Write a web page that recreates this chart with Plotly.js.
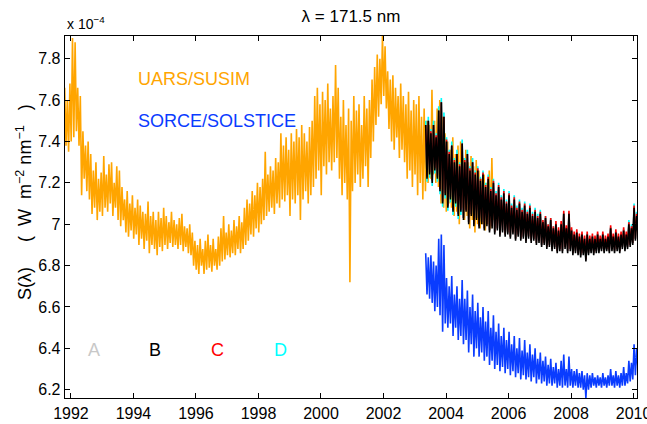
<!DOCTYPE html>
<html>
<head>
<meta charset="utf-8">
<script src="https://cdn.plot.ly/plotly-3.0.1.min.js"></script>
<style>html,body{margin:0;padding:0;background:#fff;}#chart{width:647px;height:424px;}</style>
</head>
<body>
<div id="chart"></div>
<script>
// ---- data (values x 1e-4 W m^-2 nm^-1), monthly upper / lower excursions ----
const susimStartYear = 1991.80;
const sorceStartYear = 2003.35;

const susimHi = [
7.66,7.60,7.68,7.90,7.88,7.66,7.62,7.45,7.38,7.40,7.34,7.26,
7.30,7.22,7.25,7.33,7.24,7.29,7.30,7.20,7.28,7.26,7.18,7.12,
7.16,7.10,7.14,7.08,7.12,7.09,7.06,7.05,7.11,7.04,7.06,7.02,
7.06,7.03,7.08,7.04,7.01,7.06,7.02,7.00,7.03,7.05,6.99,6.98,
7.00,6.96,6.92,6.90,6.93,6.88,6.92,6.95,6.90,6.93,6.88,6.94,
6.98,7.04,6.96,7.00,6.97,7.02,6.99,7.04,7.01,7.08,7.12,7.10,
7.16,7.14,7.20,7.18,7.22,7.35,7.24,7.28,7.26,7.32,7.30,7.44,
7.38,7.42,7.36,7.44,7.40,7.46,7.42,7.48,7.44,7.40,7.47,7.50,
7.62,7.66,7.58,7.64,7.60,7.68,7.56,7.62,7.77,7.66,7.52,7.60,
7.48,7.56,7.50,7.62,7.55,7.58,7.48,7.62,7.56,7.60,7.70,7.76,
7.82,7.80,7.91,7.86,7.74,7.70,7.72,7.66,7.62,7.68,7.62,7.58,
7.64,7.55,7.60,7.58,7.62,7.52,7.56,7.50,7.48,7.65,7.50,7.56,
7.60,7.52,7.44,7.40,7.36,7.42,7.34,7.38,7.40,7.32,7.36,7.30,
7.33,7.28,7.31,7.26,7.22,7.24,7.20,7.26,7.32];
const susimLo = [
7.38,7.35,7.40,7.42,7.45,7.38,7.14,7.22,7.16,7.12,7.05,7.08,
7.02,7.06,7.04,7.08,7.06,7.10,7.04,7.08,7.02,6.99,7.02,6.96,
6.94,6.97,6.93,6.95,6.90,6.93,6.88,6.92,6.86,6.90,6.88,6.85,
6.89,6.87,6.90,6.88,6.91,6.89,6.90,6.88,6.90,6.87,6.89,6.86,
6.85,6.80,6.78,6.76,6.80,6.76,6.78,6.79,6.77,6.80,6.78,6.80,
6.82,6.83,6.85,6.84,6.86,6.85,6.88,6.86,6.88,6.90,6.92,6.95,
6.94,6.98,6.96,7.00,7.02,7.04,7.06,7.08,7.05,7.10,7.08,7.12,
7.11,7.14,7.04,7.12,7.10,7.14,7.02,7.12,7.16,7.10,7.14,7.18,
7.22,7.26,7.14,7.28,7.24,7.30,7.26,7.30,7.32,7.22,7.14,7.20,
7.12,6.72,7.16,7.20,7.24,7.18,7.22,7.28,7.18,7.32,7.40,7.48,
7.52,7.58,7.62,7.56,7.46,7.40,7.36,7.42,7.32,7.36,7.30,7.22,
7.26,7.18,7.24,7.14,7.20,7.12,7.16,7.20,7.22,7.24,7.20,7.18,
7.10,7.08,7.06,7.10,7.08,7.04,7.06,7.00,7.08,7.02,7.04,6.98,
7.02,6.96,7.00,6.98,7.00,6.97,7.00,6.98,7.02];

const bHi = [
7.48,7.50,7.44,7.48,7.42,7.55,7.59,7.52,7.40,7.34,7.38,7.30,7.34,7.28,7.39,7.30,7.34,7.26,7.30,7.24,
7.26,7.21,7.24,7.18,7.22,7.16,7.20,7.14,7.18,7.12,7.15,7.10,7.14,7.08,7.12,7.07,7.10,7.06,7.09,7.05,
7.08,7.04,7.06,7.03,7.05,7.01,7.03,6.99,7.02,6.98,7.00,6.97,7.00,7.05,6.98,7.05,6.97,6.95,6.96,6.94,
6.95,6.93,6.95,6.93,6.94,6.93,6.95,6.93,6.95,6.93,6.94,6.98,6.94,6.96,6.94,6.95,6.97,6.95,7.00,6.98,
7.08,7.04];
const bLo = [
7.22,7.24,7.20,7.26,7.22,7.16,7.10,7.14,7.08,7.12,7.06,7.10,7.04,7.06,7.02,7.06,7.00,7.04,6.99,7.02,
6.98,7.00,6.97,6.99,6.96,6.98,6.95,6.97,6.94,6.96,6.94,6.95,6.93,6.95,6.92,6.94,6.92,6.93,6.91,6.93,
6.91,6.92,6.90,6.91,6.89,6.90,6.88,6.89,6.87,6.88,6.86,6.87,6.86,6.88,6.86,6.87,6.85,6.86,6.85,6.84,
6.85,6.82,6.85,6.86,6.85,6.86,6.86,6.87,6.86,6.87,6.86,6.87,6.86,6.87,6.86,6.88,6.87,6.88,6.89,6.90,
6.92,6.95];

const cHi = [
7.48,7.50,7.45,7.48,7.43,7.55,7.59,7.52,7.41,7.35,7.38,7.31,7.34,7.29,7.39,7.31,7.34,7.27,7.30,7.25,
7.27,7.22,7.25,7.19,7.23,7.17,7.21,7.15,7.19,7.13,7.16,7.11,7.15,7.09,7.13,7.08,7.11,7.07,7.10,7.06,
7.09,7.05,7.07,7.04,7.06,7.02,7.04,7.00,7.03,6.99,7.015,6.985,7.015,7.065,6.995,7.065,6.985,6.965,6.975,6.955,
6.965,6.945,6.965,6.945,6.955,6.945,6.965,6.945,6.965,6.945,6.955,6.995,6.955,6.975,6.955,6.965,6.985,6.965,7.01,6.99,
7.09,7.05];
const cLo = [
7.23,7.25,7.21,7.27,7.23,7.17,7.11,7.15,7.09,7.13,7.07,7.11,7.05,7.07,7.03,7.07,7.01,7.05,7.00,7.03,
6.99,7.01,6.98,7.00,6.97,6.99,6.96,6.98,6.95,6.97,6.95,6.96,6.94,6.96,6.93,6.95,6.93,6.94,6.92,6.94,
6.92,6.93,6.91,6.92,6.90,6.91,6.89,6.90,6.88,6.89,6.87,6.88,6.87,6.89,6.87,6.88,6.86,6.87,6.86,6.85,
6.86,6.83,6.86,6.87,6.86,6.87,6.87,6.88,6.87,6.88,6.87,6.88,6.87,6.88,6.87,6.89,6.88,6.89,6.90,6.91,
6.93,6.96];

const dHi = [
7.50,7.52,7.46,7.50,7.44,7.57,7.61,7.54,7.42,7.36,7.40,7.32,7.36,7.30,7.41,7.32,7.36,7.28,7.32,7.26,
7.28,7.23,7.26,7.20,7.24,7.18,7.22,7.16,7.20,7.14,7.17,7.12,7.16,7.10,7.14,7.09,7.12,7.08,7.11,7.07,
7.10,7.06,7.08,7.05,7.07,7.02,7.04,7.00,7.03,6.99,7.005,6.975,7.005,7.055,6.985,7.055,6.975,6.955,6.965,6.945,
6.955,6.935,6.955,6.935,6.945,6.935,6.955,6.935,6.955,6.935,6.945,6.985,6.945,6.965,6.945,6.955,6.975,6.955,7.02,7.00,
7.10,7.06];
const dLo = [
7.205,7.225,7.185,7.245,7.205,7.145,7.085,7.125,7.065,7.105,7.045,7.085,7.025,7.045,7.03,7.07,7.01,7.05,7.00,7.03,
6.99,7.01,6.98,7.00,6.97,6.99,6.96,6.98,6.95,6.97,6.95,6.96,6.94,6.96,6.93,6.95,6.93,6.94,6.92,6.94,
6.92,6.93,6.91,6.92,6.90,6.91,6.89,6.90,6.88,6.89,6.87,6.88,6.87,6.89,6.87,6.88,6.86,6.87,6.86,6.85,
6.86,6.83,6.86,6.87,6.86,6.87,6.87,6.88,6.87,6.88,6.87,6.88,6.87,6.88,6.87,6.89,6.88,6.89,6.90,6.91,
6.93,6.96];

const solsticeHi = [
6.86,6.84,6.85,6.82,6.80,6.93,6.95,6.90,6.74,6.70,6.75,6.66,6.70,6.64,6.73,6.64,6.68,6.60,6.66,6.58,
6.62,6.55,6.60,6.53,6.58,6.50,6.56,6.48,6.52,6.46,6.50,6.44,6.48,6.42,6.46,6.40,6.45,6.39,6.44,6.38,
6.42,6.37,6.40,6.35,6.38,6.34,6.36,6.32,6.35,6.31,6.33,6.30,6.34,6.37,6.30,6.36,6.30,6.29,6.30,6.28,
6.29,6.27,6.28,6.27,6.28,6.26,6.27,6.26,6.28,6.26,6.27,6.30,6.27,6.29,6.27,6.28,6.31,6.28,6.34,6.33,
6.42,6.40];
const solsticeLo = [
6.66,6.64,6.62,6.58,6.60,6.56,6.48,6.52,6.50,6.52,6.46,6.50,6.44,6.46,6.42,6.44,6.38,6.42,6.36,6.40,
6.36,6.38,6.34,6.36,6.32,6.34,6.30,6.32,6.29,6.31,6.28,6.30,6.27,6.29,6.26,6.28,6.25,6.27,6.25,6.26,
6.24,6.26,6.23,6.25,6.23,6.24,6.22,6.23,6.22,6.23,6.21,6.22,6.21,6.22,6.21,6.22,6.21,6.22,6.21,6.21,
6.20,6.16,6.20,6.21,6.22,6.21,6.22,6.21,6.22,6.21,6.22,6.22,6.21,6.22,6.21,6.22,6.22,6.23,6.24,6.25,
6.27,6.30];

const xTickVals = [1992,1994,1996,1998,2000,2002,2004,2006,2008,2010];
const xTickText = ['1992','1994','1996','1998','2000','2002','2004','2006','2008','2010'];
const yTickVals = [6.2,6.4,6.6,6.8,7.0,7.2,7.4,7.6,7.8];
const yTickText = ['6.2','6.4','6.6','6.8','7','7.2','7.4','7.6','7.8'];

const letterLabels = ['A','B','C','D'];
const letterYears = [1992.75,1994.7,1996.7,1998.7];
const letterColors = ['#c8c8c8','#000000','#ff0000','#00ffff'];

// build monthly zig-zag (upper excursion, then lower excursion half a month later)
function zig(start, hi, lo) {
  const x = [], y = [];
  for (let i = 0; i < hi.length; i++) {
    x.push(start + i / 12); y.push(hi[i]);
    x.push(start + i / 12 + 1 / 24); y.push(lo[i]);
  }
  return {x, y};
}

const ORANGE = '#ffa500', BLUE = '#0a3cff';
function tr(d, color) {
  return {x: d.x, y: d.y, type: 'scatter', mode: 'lines',
          line: {color: color, width: 1.6}, hoverinfo: 'skip'};
}
const traces = [
  tr(zig(susimStartYear, susimHi, susimLo), ORANGE),
  tr(zig(sorceStartYear, dHi, dLo), '#00ffff'),
  tr(zig(sorceStartYear, cHi, cLo), '#ff0000'),
  tr(zig(sorceStartYear, bHi, bLo), '#000000'),
  tr(zig(sorceStartYear, solsticeHi, solsticeLo), BLUE)
];

const FONT = 'Liberation Sans, Arial, Helvetica, sans-serif';
const NB = '\u00a0';
const annotations = [
  {text: 'UARS/SUSIM', x: 1994.09, y: 7.70, xref: 'x', yref: 'y', xanchor: 'left', yanchor: 'middle',
   showarrow: false, font: {size: 18, color: ORANGE, family: FONT}},
  {text: 'SORCE/SOLSTICE', x: 1994.09, y: 7.50, xref: 'x', yref: 'y', xanchor: 'left', yanchor: 'middle',
   showarrow: false, font: {size: 18, color: BLUE, family: FONT}},
  {text: 'x 10<sup>\u22124</sup>', x: 0, y: 1, xref: 'paper', yref: 'paper', xanchor: 'left', yanchor: 'bottom',
   yshift: 2, showarrow: false, font: {size: 14, color: '#000', family: FONT}},
  {text: 'S(\u03bb)' + NB.repeat(5) + '(' + NB.repeat(2) + 'W' + NB.repeat(2) + 'm<sup>\u22122</sup>' + NB +
         'nm<sup>\u22121</sup>' + NB.repeat(3) + ')',
   x: -0.072, y: 0.541, xref: 'paper', yref: 'paper', xanchor: 'center', yanchor: 'middle', textangle: -90,
   showarrow: false, font: {size: 18, color: '#000', family: FONT}}
];
letterLabels.forEach((t, i) => annotations.push({
  text: t, x: letterYears[i], y: 6.39, xref: 'x', yref: 'y', xanchor: 'center', yanchor: 'middle',
  showarrow: false, font: {size: 18, color: letterColors[i], family: FONT}}));

const axisCommon = {
  ticks: 'inside', ticklen: 5, tickwidth: 1, tickcolor: '#000',
  showline: true, linewidth: 1.3, linecolor: '#000', mirror: 'ticks',
  showgrid: false, zeroline: false, tickfont: {size: 16, color: '#000', family: FONT},
  ticklabeloverflow: 'allow'
};
const layout = {
  width: 647, height: 424,
  margin: {l: 65, r: 10, t: 36, b: 26, pad: 0},
  paper_bgcolor: '#fff', plot_bgcolor: '#fff',
  showlegend: false,
  font: {family: FONT, color: '#000'},
  title: {text: '\u03bb = 171.5 nm', x: 0.5, xref: 'paper', y: 0.962, yref: 'container', yanchor: 'middle',
          font: {size: 17, color: '#000', family: FONT}},
  xaxis: Object.assign({}, axisCommon, {range: [1991.81, 2010.11], tickmode: 'array',
          tickvals: xTickVals, ticktext: xTickText}),
  yaxis: Object.assign({}, axisCommon, {range: [6.16, 7.91], tickmode: 'array',
          tickvals: yTickVals, ticktext: yTickText}),
  annotations: annotations
};
Plotly.newPlot('chart', traces, layout, {displayModeBar: false, staticPlot: true});
</script>
</body>
</html>
